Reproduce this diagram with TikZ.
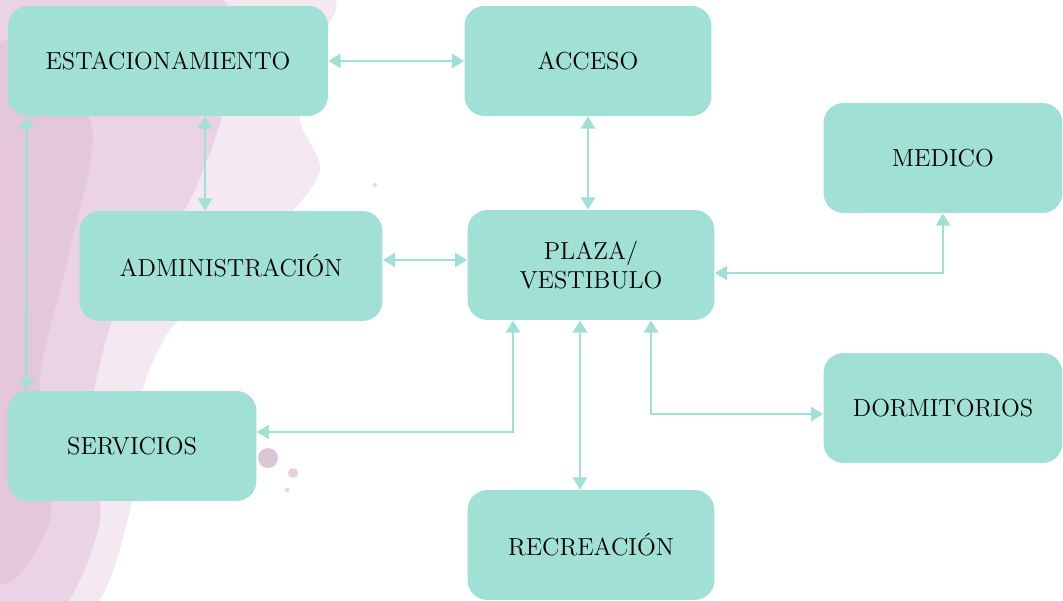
\documentclass[tikz,border=0pt]{standalone}
\usepackage{fontspec}
\usepackage{xcolor}
\usepackage{tikz}
\usetikzlibrary{arrows.meta,positioning,calc}
\definecolor{boxteal}{RGB}{160,224,213}
\definecolor{washpink}{RGB}{205,150,190}

\begin{document}
\begin{tikzpicture}[x=0.02cm,y=-0.02cm,
  area/.style={fill=boxteal, rounded corners=0.4cm, minimum width=4.94cm, minimum height=2.2cm,
    align=center, inner sep=2pt, font=\fontsize{14}{16}\selectfont},
  link/.style={draw=boxteal, line width=1.5pt, {Triangle[width=8pt,length=7pt]}-{Triangle[width=8pt,length=7pt]}}]
			\useasboundingbox (0,0) rectangle (1063,601);
			
			% watercolour wash on the left
			\fill[washpink, opacity=0.22] plot[smooth cycle] coordinates {(-10,-10) (320,-10) (305,60) (300,120) (320,170) (285,220) (220,290) (170,330) (140,400) (130,510) (90,611) (-10,611)};
			\fill[washpink, opacity=0.25] plot[smooth cycle] coordinates {(-10,-10) (210,-10) (230,80) (190,200) (120,300) (90,420) (100,520) (60,611) (-10,611)};
			\fill[washpink, opacity=0.2] plot[smooth cycle] coordinates {(-10,60) (90,120) (70,250) (40,380) (50,520) (-10,560)};
			\fill[washpink!85!black, opacity=0.45] (268,458) circle (0.2cm);
			\fill[washpink!85!black, opacity=0.35] (293,473) circle (0.1cm);
			\fill[washpink!85!black, opacity=0.3] (287,490) circle (0.05cm);
			\fill[washpink, opacity=0.4] (375,185) circle (0.04cm);
			
			\node[area, minimum width=6.4cm] (estac) at (168,61) {ESTACIONAMIENTO};
			\node[area] (acceso) at (588,61) {ACCESO};
			\node[area, minimum width=4.78cm] (medico) at (943,158) {MEDICO};
			\node[area, minimum width=6.06cm] (admin) at (231,266) {ADMINISTRACIÓN};
			\node[area] (plaza) at (591,265) {PLAZA/\\VESTIBULO};
			\node[area, minimum width=4.98cm] (serv) at (132,446) {SERVICIOS};
			\node[area, minimum width=4.78cm] (dorm) at (943,408) {DORMITORIOS};
			\node[area] (recre) at (591,545) {RECREACIÓN};
			
			\draw[link] (estac.east) -- (acceso.west);
			\draw[link] ($(estac.south)+(37,0)$) -- ($(admin.north)+(-26,0)$);
			\draw[link] ($(estac.south west)+(19,0)$) -- ($(serv.north west)+(19,0)$);
			\draw[link] (acceso.south) -- (acceso.south |- plaza.north);
			\draw[link] ($(admin.east)+(0,-6)$) -- ($(plaza.west)+(0,-5)$);
			\draw[link] ($(plaza.east)+(0,8)$) -| (medico.south);
			\draw[link] ($(serv.east)+(0,-14)$) -| ($(plaza.south)+(-78,0)$);
			\draw[link] ($(plaza.south)+(-11,0)$) -- ($(recre.north)+(-11,0)$);
			\draw[link] ($(plaza.south)+(60,0)$) |- ($(dorm.west)+(0,6)$);
			
		\end{tikzpicture}
\end{document}
